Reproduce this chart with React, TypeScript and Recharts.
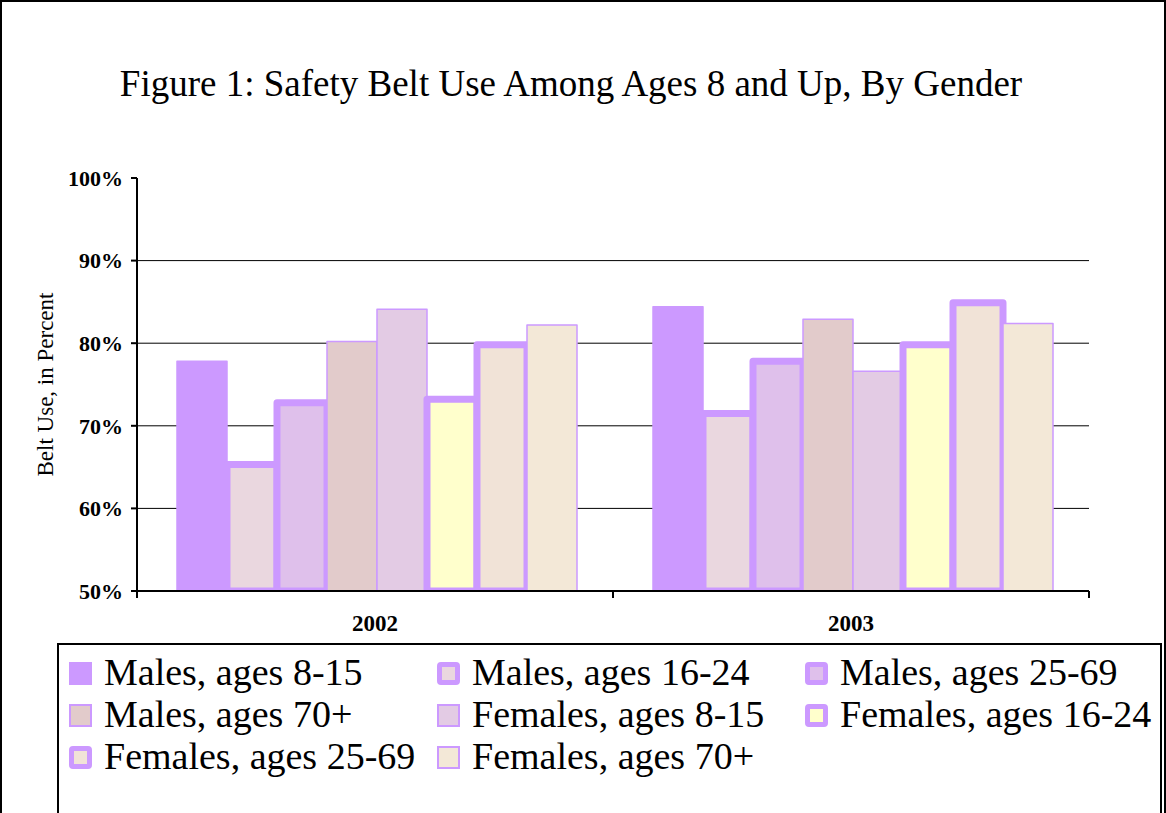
import React from 'react';
import { BarChart, Bar, XAxis, YAxis, CartesianGrid } from 'recharts';

const years = ['2002', '2003'];
const yTicks = [50, 60, 70, 80, 90, 100];
const gridValues = [60, 70, 80, 90];

const malesAges8to15 = [77.8, 84.4];
const malesAges16to24 = [65.3, 71.5];
const malesAges25to69 = [72.8, 77.8];
const malesAges70plus = [80.2, 82.9];
const femalesAges8to15 = [84.1, 76.6];
const femalesAges16to24 = [73.2, 79.8];
const femalesAges25to69 = [79.8, 84.9];
const femalesAges70plus = [82.2, 82.4];

const SERIF = "'Liberation Serif', 'Times New Roman', serif";
const PURPLE = '#CC99FF';
const CHART_W = 1166;
const CHART_H = 813;
const Y_AXIS_W = 137;
const MARGIN = { top: 178, right: 77, bottom: 182, left: 0 };
const PLOT_W = CHART_W - Y_AXIS_W - MARGIN.right;

type Series = { key: string; name: string; values: number[]; fill: string; thick: boolean };

const series: Series[] = [
  { key: 'm815', name: 'Males, ages 8-15', values: malesAges8to15, fill: PURPLE, thick: false },
  { key: 'm1624', name: 'Males, ages 16-24', values: malesAges16to24, fill: '#EAD7DF', thick: true },
  { key: 'm2569', name: 'Males, ages 25-69', values: malesAges25to69, fill: '#DFC0EB', thick: true },
  { key: 'm70', name: 'Males, ages 70+', values: malesAges70plus, fill: '#E2CBCB', thick: false },
  { key: 'f815', name: 'Females, ages 8-15', values: femalesAges8to15, fill: '#E3CBE4', thick: false },
  { key: 'f1624', name: 'Females, ages 16-24', values: femalesAges16to24, fill: '#FFFFCC', thick: true },
  { key: 'f2569', name: 'Females, ages 25-69', values: femalesAges25to69, fill: '#F1E3D7', thick: true },
  { key: 'f70', name: 'Females, ages 70+', values: femalesAges70plus, fill: '#F3E8D7', thick: false },
];

const data = years.map((year, i) => {
  const row: Record<string, string | number> = { year };
  series.forEach((s) => {
    row[s.key] = s.values[i];
  });
  return row;
});

// category label in the middle, tick marks on the category boundaries
const YearTick = (props: any) => {
  const { x, y, payload, index } = props;
  const half = PLOT_W / years.length / 2;
  return (
    <g>
      <line x1={x - half} x2={x - half} y1={y} y2={y + 7} stroke="#000" strokeWidth={2} />
      {index === years.length - 1 && (
        <line x1={x + half} x2={x + half} y1={y} y2={y + 7} stroke="#000" strokeWidth={2} />
      )}
      <text x={x} y={y + 40} textAnchor="middle" fontFamily={SERIF} fontWeight="bold" fontSize={23} fill="#000">
        {payload.value}
      </text>
    </g>
  );
};

const LegendIcon = ({ s }: { s: Series }) => {
  const base: React.CSSProperties = {
    width: 23,
    height: 23,
    marginTop: 11,
    boxSizing: 'border-box',
    background: s.fill,
    flex: '0 0 auto',
  };
  if (s.thick) {
    return <div style={{ ...base, border: `5px solid ${PURPLE}`, borderRadius: 4 }} />;
  }
  return <div style={{ ...base, border: `2px solid ${PURPLE}` }} />;
};

const App = () => {
  return (
    <div
      style={{
        position: 'relative',
        width: CHART_W,
        height: CHART_H,
        boxSizing: 'border-box',
        borderTop: '2px solid #000',
        borderLeft: '2px solid #000',
        borderRight: '2px solid #000',
        overflow: 'hidden',
        background: '#fff',
        fontFamily: SERIF,
      }}
    >
      <style>{'body{margin:0}'}</style>
      <div
        style={{
          position: 'absolute',
          left: 0,
          width: 1138,
          top: 63,
          textAlign: 'center',
          fontSize: 37,
          lineHeight: '37px',
          whiteSpace: 'nowrap',
          color: '#000',
        }}
      >
        Figure 1: Safety Belt Use Among Ages 8 and Up, By Gender
      </div>
      <div style={{ position: 'absolute', left: -2, top: -2 }}>
        <BarChart
          width={CHART_W}
          height={CHART_H}
          data={data}
          margin={MARGIN}
          barCategoryGap={40}
          barGap={0}
        >
          <CartesianGrid vertical={false} horizontalValues={gridValues} stroke="#000" strokeWidth={1} />
          <XAxis
            dataKey="year"
            axisLine={{ stroke: '#000', strokeWidth: 2 }}
            tickLine={false}
            tickSize={0}
            tickMargin={0}
            height={40}
            tick={<YearTick />}
            interval={0}
          />
          <XAxis
            xAxisId="top"
            orientation="top"
            dataKey="year"
            height={0}
            tick={false}
            tickLine={false}
            axisLine={{ stroke: '#808080', strokeWidth: 1 }}
          />
          <YAxis
            domain={[50, 100]}
            ticks={yTicks}
            width={Y_AXIS_W}
            tickFormatter={(v: number) => `${v}%`}
            axisLine={{ stroke: '#000', strokeWidth: 2 }}
            tickLine={{ stroke: '#000', strokeWidth: 2 }}
            tickSize={6}
            tickMargin={8}
            tick={{ fontFamily: SERIF, fontWeight: 'bold', fontSize: 22, fill: '#000' }}
            allowDataOverflow
            label={{
              content: (p: any) => {
                const vb = p.viewBox;
                const cx = 45;
                const cy = vb.y + vb.height / 2;
                return (
                  <text
                    x={cx}
                    y={cy}
                    transform={`rotate(-90, ${cx}, ${cy})`}
                    textAnchor="middle"
                    dominantBaseline="central"
                    fontFamily={SERIF}
                    fontSize={23}
                    fill="#000"
                  >
                    Belt Use, in Percent
                  </text>
                );
              },
            }}
          />
          <YAxis
            yAxisId="right"
            orientation="right"
            domain={[50, 100]}
            width={0}
            tick={false}
            tickLine={false}
            axisLine={{ stroke: '#808080', strokeWidth: 2 }}
          />
          {series.map((s) => (
            <Bar
              key={s.key}
              dataKey={s.key}
              name={s.name}
              fill={s.fill}
              stroke={PURPLE}
              strokeWidth={s.thick ? 7 : 1.5}
              strokeLinejoin="round"
              isAnimationActive={false}
            />
          ))}
        </BarChart>
      </div>
      <div
        style={{
          position: 'absolute',
          left: 55,
          top: 641,
          width: 1105,
          height: 220,
          boxSizing: 'border-box',
          border: '2px solid #000',
          padding: '6px 0 0 10px',
          display: 'grid',
          gridTemplateColumns: '368px 368px 360px',
          gridAutoRows: '42px',
          background: '#fff',
        }}
      >
        {series.map((s) => (
          <div key={s.key} style={{ display: 'flex', alignItems: 'flex-start', gap: 12, whiteSpace: 'nowrap' }}>
            <LegendIcon s={s} />
            <span style={{ fontSize: 38, lineHeight: '42px', color: '#000' }}>{s.name}</span>
          </div>
        ))}
      </div>
    </div>
  );
};

export default App;
